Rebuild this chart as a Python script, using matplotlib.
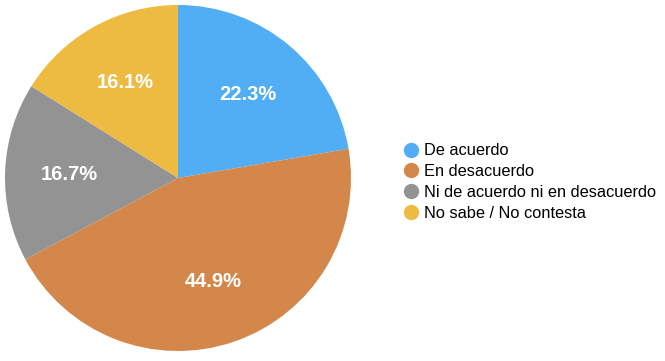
import matplotlib.pyplot as plt
from matplotlib.lines import Line2D

labels = ['De acuerdo', 'En desacuerdo', 'Ni de acuerdo ni en desacuerdo', 'No sabe / No contesta']
values = [22.3, 44.9, 16.7, 16.1]
colors = ['#51AEF5', '#D4874A', '#939393', '#EDBB42']

plt.rcParams['font.family'] = ['Liberation Sans', 'DejaVu Sans']

fig = plt.figure(figsize=(6.65, 3.61), dpi=100)
# pie centre ~ (178, 178) px, radius ~173 px
ax = fig.add_axes([5 / 665, 10 / 361, 346 / 665, 346 / 361])
wedges, texts, autotexts = ax.pie(
    values, colors=colors, startangle=90, counterclock=False,
    autopct='%.1f%%', pctdistance=0.63, radius=1.0,
    wedgeprops=dict(linewidth=0),
    textprops=dict(color='white', fontsize=14.5, fontweight='bold'))
ax.set_xlim(-1, 1)
ax.set_ylim(-1, 1)
ax.set_aspect('equal')

# Legend
handles = [Line2D([], [], marker='o', linestyle='', markersize=10,
                  markerfacecolor=c, markeredgecolor=c) for c in colors]
fig.legend(handles, labels, loc='center left', bbox_to_anchor=(397 / 665, 1 - 182 / 361),
           frameon=False, fontsize=11.8, handlelength=0.7, handletextpad=0.45,
           labelspacing=0.35, borderpad=0)

fig.savefig('out.png', dpi=100)
